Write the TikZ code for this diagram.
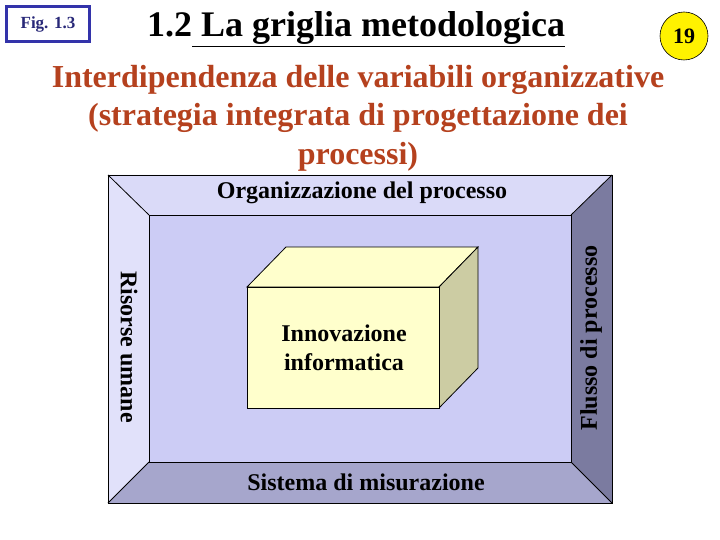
\documentclass[tikz,border=0pt]{standalone}
\usepackage{fontspec}
\setmainfont{Liberation Serif}
\usepackage{xcolor}
\usetikzlibrary{shapes.geometric}

\definecolor{figblue}{RGB}{51,51,170}
\definecolor{navytext}{RGB}{40,40,120}
\definecolor{rusttext}{RGB}{181,65,30}
\definecolor{facetop}{RGB}{218,218,248}
\definecolor{faceleft}{RGB}{225,225,250}
\definecolor{facemid}{RGB}{204,204,245}
\definecolor{facebottom}{RGB}{166,166,204}
\definecolor{faceright}{RGB}{123,123,160}
\definecolor{cubefront}{RGB}{255,255,204}
\definecolor{cubeside}{RGB}{204,204,163}

\tikzset{
  face/.style={draw=black, line width=0.8pt, line join=miter},
  frametxt/.style={font=\bfseries\fontsize{24}{28}\selectfont, inner sep=0pt},
  cubetxt/.style={font=\bfseries\fontsize{24}{29}\selectfont, align=center, inner sep=0pt},
}

\begin{document}
\begin{tikzpicture}[x=1pt,y=-1pt]
    \useasboundingbox (0,0) rectangle (720,540);

    % Header
    \node[draw=figblue, line width=3pt, minimum width=83pt, minimum height=35pt,
          text=navytext, font=\bfseries\fontsize{17}{19}\selectfont] (fig) at (48,24) {Fig. 1.3};
    \node[anchor=base, font=\bfseries\fontsize{36}{40}\selectfont] (title) at (356,37)
        {1.2\underline{ La griglia metodologica}};
    \node[circle, draw=black, fill=yellow, line width=0.6pt, minimum size=48pt, inner sep=0pt,
          font=\bfseries\fontsize{22}{24}\selectfont] (page) at (684,36) {19};

    % Subtitle
    \node[text=rusttext, align=center, font=\bfseries\fontsize{32}{38.5}\selectfont] (subtitle) at (358,118)
        {Interdipendenza delle variabili organizzative\\(strategia integrata di progettazione dei\\processi)};

    % Frame corners
    \coordinate (oa) at (108,175);
    \coordinate (ob) at (612,175);
    \coordinate (oc) at (612,503);
    \coordinate (od) at (108,503);
    \coordinate (ia) at (149,215);
    \coordinate (ib) at (571,215);
    \coordinate (ic) at (571,462);
    \coordinate (id) at (149,462);

    % Frame faces
    \fill[facemid] (ia) rectangle (ic);
    \fill[facetop] (oa) -- (ob) -- (ib) -- (ia) -- cycle;
    \fill[faceleft] (oa) -- (ia) -- (id) -- (od) -- cycle;
    \fill[facebottom] (od) -- (id) -- (ic) -- (oc) -- cycle;
    \fill[faceright] (ob) -- (oc) -- (ic) -- (ib) -- cycle;
    \draw[face] (oa) rectangle (oc);
    \draw[face] (ia) rectangle (ic);
    \draw[face] (oa) -- (ia) (ob) -- (ib) (oc) -- (ic) (od) -- (id);

    % Cube
    \coordinate (fa) at (247,287);
    \coordinate (fb) at (439,287);
    \coordinate (fc) at (439,408);
    \coordinate (fd) at (247,408);
    \coordinate (ba) at (286,247);
    \coordinate (bb) at (478,247);
    \coordinate (bc) at (478,368);
    \draw[face, fill=cubefront] (fa) -- (ba) -- (bb) -- (fb) -- cycle;
    \draw[face, fill=cubeside] (fb) -- (bb) -- (bc) -- (fc) -- cycle;
    \draw[face, fill=cubefront] (fa) rectangle (fc);

    % Labels
    \node[frametxt] (org) at (362,193) {Organizzazione del processo};
    \node[frametxt] (mis) at (366,482) {Sistema di misurazione};
    \node[frametxt, rotate=-90] (ris) at (129,347) {Risorse umane};
    \node[frametxt, rotate=90] (flu) at (591,338) {Flusso di processo};
    \node[cubetxt] (inn) at (344,348) {Innovazione\\informatica};
\end{tikzpicture}
\end{document}
